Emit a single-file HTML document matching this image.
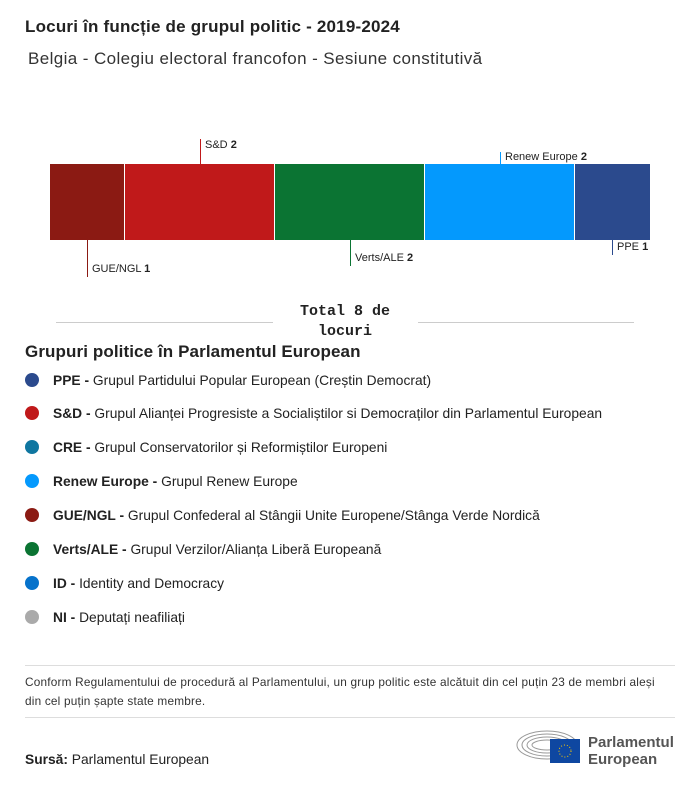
<!DOCTYPE html>
<html><head><meta charset="utf-8"><style>
body{margin:0;width:700px;height:786px;background:#fff;font-family:"Liberation Sans",sans-serif;color:#222;position:relative;overflow:hidden}
.a{position:absolute;white-space:nowrap}
.seg{position:absolute;top:164px;height:76px}
.ln{position:absolute;width:1px}
.lbl{position:absolute;font-size:11px;white-space:nowrap}
.row{position:absolute;left:25px;font-size:13.8px;white-space:nowrap}
.row i{display:inline-block;width:14px;height:14px;border-radius:50%;vertical-align:-2px;margin-right:14px}
</style></head><body>
<div class="a" style="left:25px;top:17px;font-size:17px;font-weight:bold;letter-spacing:0.2px">Locuri în funcție de grupul politic - 2019-2024</div>
<div class="a" style="left:28px;top:49px;font-size:17px;color:#333;letter-spacing:0.4px">Belgia - Colegiu electoral francofon - Sesiune constitutivă</div>

<div class="seg" style="left:50px;width:74px;background:#8b1a13"></div>
<div class="seg" style="left:125px;width:149px;background:#c0191a"></div>
<div class="seg" style="left:275px;width:149px;background:#0b7433"></div>
<div class="seg" style="left:425px;width:149px;background:#0499fd"></div>
<div class="seg" style="left:575px;width:75px;background:#2b4a8d"></div>

<div class="ln" style="left:200px;top:139px;height:25px;background:#c0191a"></div>
<div class="lbl" style="left:205px;top:139px">S&amp;D <b>2</b></div>
<div class="ln" style="left:500px;top:152px;height:12px;background:#0499fd"></div>
<div class="lbl" style="left:505px;top:151px">Renew Europe <b>2</b></div>
<div class="ln" style="left:87px;top:240px;height:37px;background:#8b1a13"></div>
<div class="lbl" style="left:92px;top:263px">GUE/NGL <b>1</b></div>
<div class="ln" style="left:350px;top:240px;height:26px;background:#0b7433"></div>
<div class="lbl" style="left:355px;top:252px">Verts/ALE <b>2</b></div>
<div class="ln" style="left:612px;top:240px;height:15px;background:#2b4a8d"></div>
<div class="lbl" style="left:617px;top:241px">PPE <b>1</b></div>

<div class="a" style="left:56px;top:322px;width:217px;height:1px;background:#ccc"></div>
<div class="a" style="left:418px;top:322px;width:216px;height:1px;background:#ccc"></div>
<div class="a" style="left:280px;top:302px;width:130px;text-align:center;font-family:'Liberation Mono',monospace;font-weight:bold;font-size:15px;line-height:20px;white-space:normal">Total 8 de locuri</div>

<div class="a" style="left:25px;top:342px;font-size:17px;font-weight:bold;letter-spacing:0.1px">Grupuri politice în Parlamentul European</div>
<div class="row" style="top:373px"><i style="background:#2b4a8d"></i><b>PPE -</b> Grupul Partidului Popular European (Creștin Democrat)</div>
<div class="row" style="top:406px"><i style="background:#c0191a"></i><b>S&amp;D -</b> Grupul Alianței Progresiste a Socialiștilor si Democraților din Parlamentul European</div>
<div class="row" style="top:440px"><i style="background:#0f76a0"></i><b>CRE -</b> Grupul Conservatorilor și Reformiștilor Europeni</div>
<div class="row" style="top:474px"><i style="background:#0499fd"></i><b>Renew Europe -</b> Grupul Renew Europe</div>
<div class="row" style="top:508px"><i style="background:#8b1a13"></i><b>GUE/NGL -</b> Grupul Confederal al Stângii Unite Europene/Stânga Verde Nordică</div>
<div class="row" style="top:542px"><i style="background:#0b7433"></i><b>Verts/ALE -</b> Grupul Verzilor/Alianța Liberă Europeană</div>
<div class="row" style="top:576px"><i style="background:#0672cb"></i><b>ID -</b> Identity and Democracy</div>
<div class="row" style="top:610px"><i style="background:#aaa"></i><b>NI -</b> Deputați neafiliați</div>

<div class="a" style="left:25px;top:665px;width:650px;height:1px;background:#ddd"></div>
<div class="a" style="left:25px;top:673px;font-size:11.8px;line-height:19px;color:#333;letter-spacing:0.2px">Conform Regulamentului de procedură al Parlamentului, un grup politic este alcătuit din cel puțin 23 de membri aleși<br>din cel puțin șapte state membre.</div>
<div class="a" style="left:25px;top:717px;width:650px;height:1px;background:#ddd"></div>
<div class="a" style="left:25px;top:752px;font-size:13.8px"><b>Sursă:</b> Parlamentul European</div>

<svg class="a" style="left:515px;top:727px" width="70" height="38">
<g fill="none" stroke="#999" stroke-width="1">
<ellipse cx="32" cy="18" rx="30" ry="14"/><ellipse cx="32" cy="18" rx="25" ry="11"/><ellipse cx="32" cy="18" rx="20" ry="8"/><ellipse cx="32" cy="18" rx="15" ry="5"/></g>
<rect x="35" y="12" width="30" height="24" fill="#0e47a1"/>
<circle cx="50" cy="24" r="6" fill="none" stroke="#fc0" stroke-dasharray="1 2"/>
</svg>
<div class="a" style="left:588px;top:734px;font-size:15px;font-weight:bold;color:#555;line-height:17px">Parlamentul<br>European</div>
</body></html>
